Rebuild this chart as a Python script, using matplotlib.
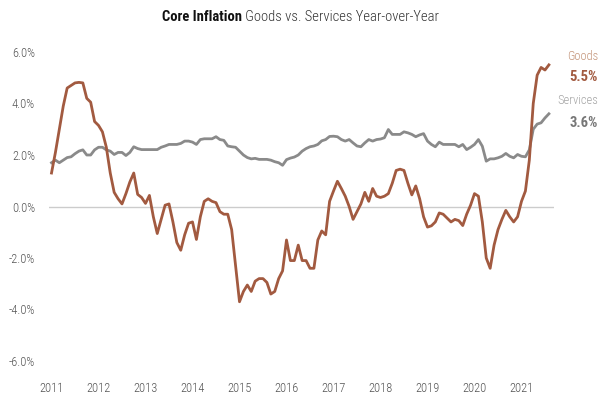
import numpy as np
import matplotlib
matplotlib.use("Agg")
import matplotlib.pyplot as plt
from matplotlib import font_manager as fm

# ---------------- data (monthly, Jan 2011 onward) ----------------
start_year = 2011
goods = [1.3, 2.1, 3.0, 3.9, 4.6, 4.7, 4.8, 4.82, 4.8, 4.2, 4.05, 3.3, 3.15, 2.9, 2.3, 1.3,
         0.55, 0.3, 0.1, 0.5, 0.95, 1.3, 0.47, 0.35, 0.12, 0.43, -0.4, -1.05, -0.5, 0.05,
         0.1, -0.6, -1.4, -1.7, -1.1, -0.65, -0.6, -1.28, -0.4, 0.2, 0.3, 0.2, 0.15, -0.2,
         -0.3, -0.3, -0.9, -2.3, -3.7, -3.3, -3.05, -3.3, -2.9, -2.8, -2.8, -2.95, -3.4,
         -3.3, -2.8, -2.5, -1.3, -2.1, -2.1, -1.5, -2.1, -2.1, -2.4, -2.4, -1.3, -0.95,
         -1.1, 0.2, 0.6, 0.98, 0.7, 0.4, 0.0, -0.5, -0.2, 0.1, 0.55, 0.2, 0.7, 0.4, 0.35,
         0.4, 0.5, 0.9, 1.4, 1.45, 1.4, 0.9, 0.45, 0.8, 0.3, -0.4, -0.8, -0.75, -0.6,
         -0.25, -0.3, -0.45, -0.6, -0.5, -0.55, -0.74, -0.3, 0.05, 0.5, 0.4, -0.6, -2.0,
         -2.4, -1.5, -0.9, -0.5, -0.15, -0.4, -0.6, -0.4, 0.2, 0.6, 1.8, 4.0, 5.1, 5.4,
         5.3, 5.5]
services = [1.7, 1.8, 1.7, 1.8, 1.9, 1.93, 2.05, 2.15, 2.2, 2.0, 2.0, 2.2, 2.3, 2.3, 2.2,
            2.15, 2.02, 2.1, 2.1, 1.98, 2.1, 2.32, 2.25, 2.21, 2.21, 2.21, 2.21, 2.21, 2.3,
            2.35, 2.41, 2.41, 2.41, 2.45, 2.54, 2.54, 2.5, 2.41, 2.6, 2.63, 2.63, 2.63,
            2.71, 2.6, 2.57, 2.35, 2.32, 2.3, 2.15, 2.0, 1.9, 1.85, 1.87, 1.83, 1.83, 1.83,
            1.8, 1.74, 1.7, 1.6, 1.82, 1.88, 1.92, 2.0, 2.15, 2.25, 2.32, 2.35, 2.41, 2.55,
            2.6, 2.72, 2.73, 2.71, 2.6, 2.54, 2.6, 2.47, 2.35, 2.32, 2.47, 2.6, 2.54, 2.6,
            2.62, 2.67, 2.99, 2.8, 2.8, 2.8, 2.9, 2.86, 2.8, 2.71, 2.78, 2.83, 2.54, 2.41,
            2.32, 2.5, 2.41, 2.41, 2.41, 2.41, 2.32, 2.41, 2.21, 2.3, 2.41, 2.6, 2.34, 1.76,
            1.85, 1.85, 1.89, 1.95, 2.06, 1.95, 1.89, 2.02, 1.95, 1.93, 2.2, 3.0, 3.2, 3.25,
            3.44, 3.6]
year_ticks = list(range(2011, 2022))
y_ticks = [-6, -4, -2, 0, 2, 4, 6]
goods_label, goods_last = "Goods", "5.5%"
services_label, services_last = "Services", "3.6%"

# ---------------- font ----------------
fam = "DejaVu Sans"
for f in fm.fontManager.ttflist:
    if "Condensed" in f.name and "Roboto" in f.name:
        fam = f.name
        break
plt.rcParams["font.family"] = [fam, "DejaVu Sans"]
plt.rcParams["font.stretch"] = "condensed"

GOODS_C = "#a25a40"
SERV_C = "#8a8a8a"

fig = plt.figure(figsize=(6.0, 3.99), dpi=100)
W, H = 600, 399
ax = fig.add_axes([49 / W, 1 - 361 / H, (554 - 49) / W, (361 - 52) / H])

n = len(goods)
x = start_year + np.arange(n) / 12.0
xs = start_year + np.arange(len(services)) / 12.0

ax.axhline(0, color="#cccccc", lw=1.0, zorder=1)
ax.plot(xs, services, color=SERV_C, lw=2.0, solid_joinstyle="round", zorder=2)
ax.plot(x, goods, color=GOODS_C, lw=2.0, solid_joinstyle="round", zorder=3)

ax.set_xlim(start_year - 0.64 / 12, start_year + 128.3 / 12)
ax.set_ylim(-6, 6)
ax.set_xticks(year_ticks)
ax.set_xticklabels([str(y) for y in year_ticks])
ax.set_yticks(y_ticks)
ax.set_yticklabels([f"{v:.1f}%" for v in y_ticks])
ax.tick_params(axis="both", length=0, labelsize=9, colors="#555555")
ax.tick_params(axis="x", pad=15)
ax.tick_params(axis="y", pad=10)
for lab in ax.get_xticklabels() + ax.get_yticklabels():
    lab.set_fontweight("light")
for s in ax.spines.values():
    s.set_visible(False)

# right-side labels
fig.text(598 / W, 1 - 56 / H, goods_label, ha="right", va="center", fontsize=9,
         color="#c4957a", fontweight="light")
fig.text(598 / W, 1 - 77 / H, goods_last, ha="right", va="center", fontsize=10.5,
         fontweight="bold", color=GOODS_C)
fig.text(598 / W, 1 - 101 / H, services_label, ha="right", va="center", fontsize=9,
         color="#a5a5a5", fontweight="light")
fig.text(598 / W, 1 - 123 / H, services_last, ha="right", va="center", fontsize=10.5,
         fontweight="bold", color="#777777")

# title: bold part + regular part, centred together
r = fig.canvas.get_renderer()
t1 = fig.text(0, 1 - 17 / H, "Core Inflation", fontsize=10.5, fontweight="bold",
              color="#111111", va="center", ha="left")
t2 = fig.text(0, 1 - 17 / H, " Goods vs. Services Year-over-Year", fontsize=10.5,
              color="#333333", va="center", ha="left", fontweight="light")
w1 = t1.get_window_extent(r).width
w2 = t2.get_window_extent(r).width
left = (W - (w1 + w2)) / 2
t1.set_x(left / W)
t2.set_x((left + w1) / W)

fig.savefig("out.png", dpi=100)
